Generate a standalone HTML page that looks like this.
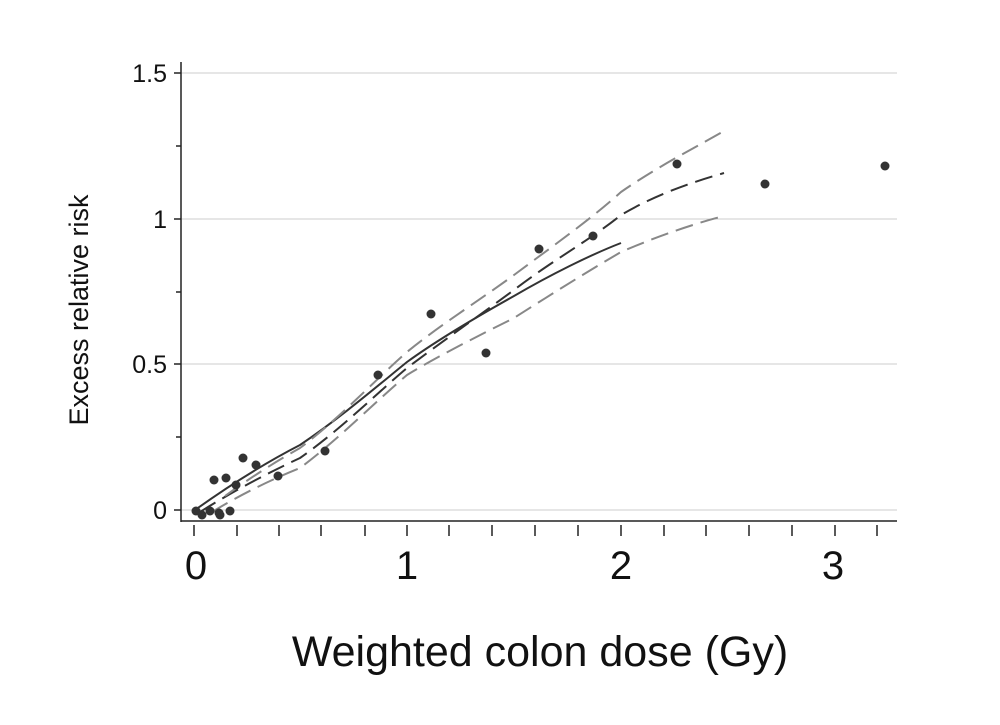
<!DOCTYPE html>
<html><head><style>
body{margin:0;background:#fff;}
svg text{font-family:"Liberation Sans",sans-serif;fill:#111;}
</style></head><body>
<svg width="1000" height="720" viewBox="0 0 1000 720">
<g stroke="#ccc" stroke-width="1">
<line x1="181" y1="73" x2="897" y2="73"/>
<line x1="181" y1="219" x2="897" y2="219"/>
<line x1="181" y1="364" x2="897" y2="364"/>
<line x1="181" y1="510" x2="897" y2="510"/>
</g>
<g stroke="#222" stroke-width="1.5">
<line x1="181" y1="62" x2="181" y2="522"/>
<line x1="181" y1="521" x2="897" y2="521"/>
<line x1="174" y1="73" x2="181" y2="73"/><line x1="176" y1="146" x2="181" y2="146"/>
<line x1="174" y1="219" x2="181" y2="219"/><line x1="176" y1="292" x2="181" y2="292"/>
<line x1="174" y1="364" x2="181" y2="364"/><line x1="176" y1="437" x2="181" y2="437"/>
<line x1="174" y1="510" x2="181" y2="510"/>
<line x1="194" y1="525" x2="194" y2="536"/><line x1="237" y1="525" x2="237" y2="536"/>
<line x1="279" y1="525" x2="279" y2="536"/><line x1="321" y1="525" x2="321" y2="536"/>
<line x1="365" y1="525" x2="365" y2="536"/><line x1="407" y1="525" x2="407" y2="536"/>
<line x1="449" y1="525" x2="449" y2="536"/><line x1="492" y1="525" x2="492" y2="536"/>
<line x1="535" y1="525" x2="535" y2="536"/><line x1="578" y1="525" x2="578" y2="536"/>
<line x1="621" y1="525" x2="621" y2="536"/><line x1="664" y1="525" x2="664" y2="536"/>
<line x1="706" y1="525" x2="706" y2="536"/><line x1="749" y1="525" x2="749" y2="536"/>
<line x1="792" y1="525" x2="792" y2="536"/><line x1="835" y1="525" x2="835" y2="536"/>
<line x1="877" y1="525" x2="877" y2="536"/>
</g>
<g font-size="25" text-anchor="end">
<text x="167" y="82">1.5</text><text x="167" y="228">1</text>
<text x="167" y="373">0.5</text><text x="167" y="519">0</text>
</g>
<g font-size="40" text-anchor="middle">
<text x="196" y="579">0</text><text x="407" y="579">1</text>
<text x="621" y="579">2</text><text x="833" y="579">3</text>
</g>
<text x="540" y="666" font-size="43" text-anchor="middle">Weighted colon dose (Gy)</text>
<text transform="translate(88,310) rotate(-90)" font-size="27" text-anchor="middle">Excess relative risk</text>
<g fill="none" stroke-width="2" stroke-linejoin="round">
<path d="M195,510 C230,485 265,463 300,445 C340,418 375,388 407,362 C440,338 480,315 514,296 C550,275 590,255 621,243" stroke="#333"/>
<path d="M200,512 C235,490 270,472 300,458 C340,430 375,395 407,368 C440,343 480,315 514,290 C550,262 590,240 621,215 C660,192 700,180 724,173" stroke="#333" stroke-dasharray="18,8"/>
<path d="M225,496 C250,478 275,462 300,448 C340,418 375,380 407,352 C440,325 480,300 514,275 C550,248 590,220 621,192 C660,165 700,145 724,131" stroke="#888" stroke-dasharray="18,8"/>
<path d="M212,512 C240,495 270,480 300,468 C340,438 375,402 407,375 C440,355 480,335 514,318 C550,295 590,270 621,252 C660,235 700,222 724,216" stroke="#888" stroke-dasharray="18,8"/>
</g>
<g fill="#333">
<circle cx="196" cy="511" r="4.5"/><circle cx="202" cy="515" r="4.5"/><circle cx="210" cy="511" r="4.5"/>
<circle cx="219" cy="513" r="4.5"/><circle cx="220" cy="515" r="4.5"/><circle cx="230" cy="511" r="4.5"/>
<circle cx="214" cy="480" r="4.5"/><circle cx="226" cy="478" r="4.5"/><circle cx="236" cy="485" r="4.5"/>
<circle cx="243" cy="458" r="4.5"/><circle cx="256" cy="465" r="4.5"/><circle cx="278" cy="476" r="4.5"/>
<circle cx="325" cy="451" r="4.5"/><circle cx="378" cy="375" r="4.5"/><circle cx="431" cy="314" r="4.5"/>
<circle cx="486" cy="353" r="4.5"/><circle cx="539" cy="249" r="4.5"/><circle cx="593" cy="236" r="4.5"/>
<circle cx="677" cy="164" r="4.5"/><circle cx="765" cy="184" r="4.5"/><circle cx="885" cy="166" r="4.5"/>
</g>
</svg>
</body></html>
